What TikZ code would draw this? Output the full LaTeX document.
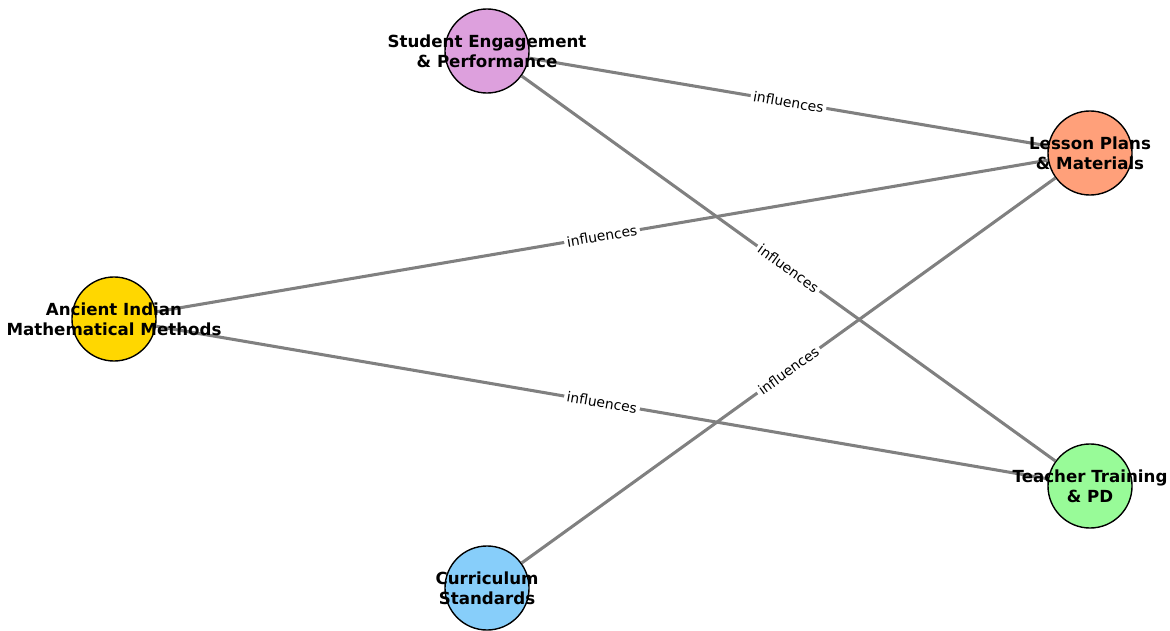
\documentclass[tikz,border=0pt]{standalone}
\usepackage{fontspec}
\setmainfont{DejaVu Sans}
\usepackage{xcolor}
\usetikzlibrary{positioning}

\definecolor{plum}{HTML}{DDA0DD}
\definecolor{salmon}{HTML}{FFA07A}
\definecolor{goldy}{HTML}{FFD700}
\definecolor{palegreen}{HTML}{98FB98}
\definecolor{skyblue}{HTML}{87CEFA}
\definecolor{edgegray}{HTML}{808080}

\tikzset{
  topic/.style={circle, draw=black, line width=1pt, minimum size=60.5pt, inner sep=0pt},
  topictext/.style={inner sep=0pt, align=center, font=\fontsize{12}{14.4}\selectfont\bfseries},
  link/.style={draw=edgegray, line width=2.2pt},
  linklabel/.style={sloped, fill=white, inner sep=2pt, rounded corners=2pt, font=\fontsize{10}{12}\selectfont}
}

\begin{document}
\begin{tikzpicture}[x=0.72pt, y=-0.72pt]
\useasboundingbox (0,0) rectangle (1170,631);
% the five topics
\node [topic, fill=plum] (stu) at (487, 51) {};
\node [topic, fill=salmon] (les) at (1090, 153) {};
\node [topic, fill=goldy] (anc) at (114, 319) {};
\node [topic, fill=palegreen] (tea) at (1090, 486) {};
\node [topic, fill=skyblue] (cur) at (487, 588) {};
% links
\draw [link] (anc) -- node[linklabel] {influences} (les);
\draw [link] (anc) -- node[linklabel] {influences} (tea);
\draw [link] (stu) -- node[linklabel] {influences} (les);
\draw [link] (stu) -- node[linklabel] {influences} (tea);
\draw [link] (cur) -- node[linklabel] {influences} (les);
% names on top
\node [topictext] at (stu) {Student Engagement\\\& Performance};
\node [topictext] at (les) {Lesson Plans\\\& Materials};
\node [topictext] at (anc) {Ancient Indian\\Mathematical Methods};
\node [topictext] at (tea) {Teacher Training\\\& PD};
\node [topictext] at (cur) {Curriculum\\Standards};
\end{tikzpicture}
\end{document}
